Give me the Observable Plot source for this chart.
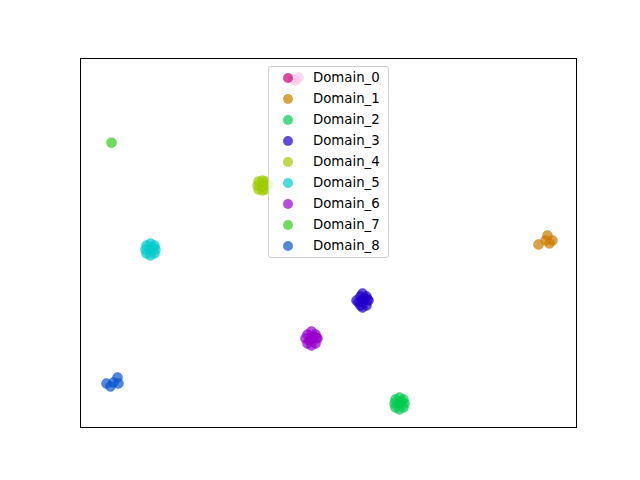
<!DOCTYPE html>
<html>
<head>
<meta charset="utf-8">
<script src="https://cdn.jsdelivr.net/npm/d3@7"></script>
<script src="https://cdn.jsdelivr.net/npm/@observablehq/plot@0.6"></script>
<style>
  html, body { margin: 0; padding: 0; background: #fff; }
  #wrap { position: relative; width: 640px; height: 480px; font-family: "DejaVu Sans", sans-serif; }
  #legend { position: absolute; left: 268px; top: 66px; width: 119px; height: 190px;
            background: rgba(255,255,255,0.8); border: 1px solid #d0d0d0; border-radius: 3px;
            box-sizing: content-box; }
  .row { position: absolute; left: 0; height: 16px; font-size: 13.3px; line-height: 16px; color: #000; }
  .sw { position: absolute; left: 14px; top: 3px; width: 10px; height: 10px; border-radius: 50%; }
  .lb { position: absolute; left: 44px; top: 0; white-space: nowrap; }
</style>
</head>
<body>
<div id="wrap"></div>
<script>
const domains = ["Domain_0","Domain_1","Domain_2","Domain_3","Domain_4","Domain_5","Domain_6","Domain_7","Domain_8"];
const colors = ["#cc0077","#cc7a00","#00cc4e","#2200cc","#9ecc00","#00cccc","#9900cc","#33cc1a","#0a55cc"];

// embedding coordinates per domain (arbitrary units, 0..100)
const xs0 = [42.94, 43.95, 43.35];
const ys0 = [94.31, 94.85, 94.04];
const xs1 = [92.34, 94.15, 95.16, 94.56, 93.75];
const ys1 = [49.59, 52.03, 50.68, 49.86, 50.68];
const xs2 = [63.31, 65.32, 64.31, 64.31, 63.51, 65.12, 63.51, 65.12, 64.31, 64.72];
const ys2 = [6.50, 6.50, 8.13, 4.88, 7.59, 7.59, 5.42, 5.42, 6.50, 7.05];
const xs3 = [55.65, 58.06, 56.85, 56.85, 56.45, 57.66, 56.45, 57.66, 56.85, 57.26, 56.05, 57.86];
const ys3 = [34.42, 34.42, 36.31, 32.52, 35.50, 35.50, 33.06, 33.06, 34.42, 34.96, 33.88, 34.69];
const xs4 = [35.69, 37.50, 36.69, 36.69, 35.89, 37.30, 35.89, 37.30, 36.69, 37.90];
const ys4 = [65.58, 65.58, 66.94, 64.23, 66.67, 66.67, 64.50, 64.50, 65.58, 65.85];
const xs5 = [13.10, 15.12, 14.11, 14.11, 13.31, 14.92, 13.31, 14.92, 14.11, 14.52];
const ys5 = [48.24, 48.24, 49.86, 46.61, 49.32, 49.32, 47.15, 47.15, 48.24, 48.78];
const xs6 = [45.36, 47.78, 46.57, 46.57, 45.77, 47.38, 45.77, 47.38, 46.57, 46.98, 46.17, 47.58];
const ys6 = [24.12, 24.12, 26.02, 22.22, 25.20, 25.20, 22.76, 22.76, 24.12, 24.66, 23.58, 24.39];
const xs7 = [6.25];
const ys7 = [77.2];
const xs8 = [5.24, 6.05, 7.46, 7.66, 6.65];
const ys8 = [11.92, 11.11, 13.55, 11.92, 12.20];

const allX = [xs0,xs1,xs2,xs3,xs4,xs5,xs6,xs7,xs8];
const allY = [ys0,ys1,ys2,ys3,ys4,ys5,ys6,ys7,ys8];
const pts = [];
domains.forEach((d, i) => allX[i].forEach((x, j) => pts.push({domain: d, x, y: allY[i][j]})));

const chart = Plot.plot({
  width: 640, height: 480,
  marginLeft: 80, marginRight: 64, marginTop: 58, marginBottom: 53,
  x: {domain: [0, 100], axis: null},
  y: {domain: [0, 100], axis: null},
  color: {domain: domains, range: colors},
  marks: [
    Plot.dot(pts, {x: "x", y: "y", fill: "domain", r: 5, fillOpacity: 0.7, stroke: "domain", strokeOpacity: 0.7, strokeWidth: 0.5}),
    Plot.frame({stroke: "#000", strokeWidth: 1})
  ]
});
const wrap = document.getElementById("wrap");
wrap.appendChild(chart);

const leg = document.createElement("div");
leg.id = "legend";
domains.forEach((d, i) => {
  const row = document.createElement("div");
  row.className = "row";
  row.style.top = (3 + i * 21) + "px";
  const sw = document.createElement("span");
  sw.className = "sw";
  sw.style.background = colors[i];
  sw.style.opacity = 0.7;
  const lb = document.createElement("span");
  lb.className = "lb";
  lb.textContent = d;
  row.appendChild(sw); row.appendChild(lb);
  leg.appendChild(row);
});
wrap.appendChild(leg);
</script>
</body>
</html>
